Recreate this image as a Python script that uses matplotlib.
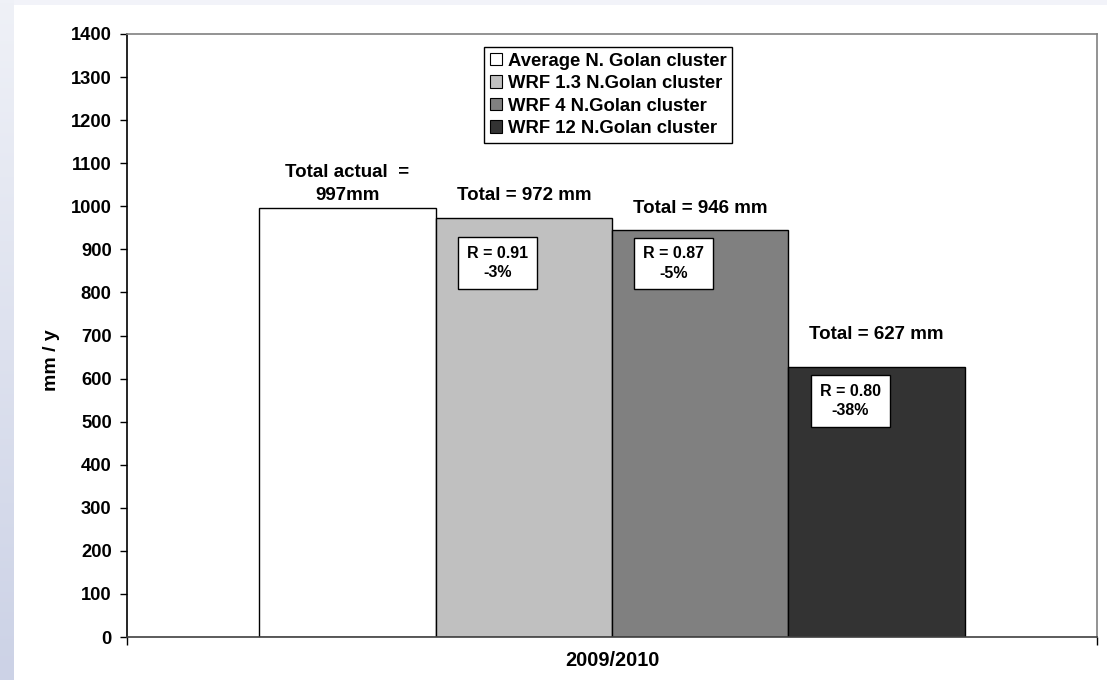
import matplotlib.pyplot as plt
import numpy as np
from matplotlib.patches import Rectangle

plt.rcParams['font.family'] = ['Liberation Sans', 'DejaVu Sans']
plt.rcParams['font.weight'] = 'bold'

# data
series = ['Average N. Golan cluster', 'WRF 1.3 N.Golan cluster',
          'WRF 4 N.Golan cluster', 'WRF 12 N.Golan cluster']
totals = [997, 972, 946, 627]
colors = ['#ffffff', '#c0c0c0', '#808080', '#333333']
total_labels = ['Total actual  =\n997mm', 'Total = 972 mm', 'Total = 946 mm', 'Total = 627 mm']
r_values = [None, 0.91, 0.87, 0.80]
pct_diff = [None, -3, -5, -38]
category = '2009/2010'

W, H = 1107, 680
fig = plt.figure(figsize=(W / 100, H / 100), dpi=100)
fig.patch.set_facecolor('white')

# slide-like background: bluish strip on the left, pale strip on top
bg = fig.add_axes([0, 0, 1, 1], zorder=-10)
bg.set_xlim(0, W)
bg.set_ylim(H, 0)
bg.axis('off')
grad = np.linspace(0, 1, 200).reshape(-1, 1)
top_c = np.array([0xef, 0xf1, 0xf7]) / 255
bot_c = np.array([0xcc, 0xd2, 0xe6]) / 255
img = top_c + (bot_c - top_c) * grad[:, :, None]
bg.imshow(img, extent=[0, 14, H, 0], aspect='auto')
bg.add_patch(Rectangle((14, 0), W - 14, 5, color='#f2f3f9', lw=0))

ax = fig.add_axes([127 / W, 43 / H, 970 / W, 603 / H])
ax.set_facecolor('white')

x = np.arange(len(totals))
ax.bar(x, totals, width=1.0, color=colors, edgecolor='black', linewidth=1,
       label=series, zorder=2)

xlo, xhi = -1.248, len(totals) - 1 + 1.248
ax.set_xlim(xlo, xhi)
ax.set_ylim(0, 1400)
ax.set_yticks(np.arange(0, 1401, 100))
ax.tick_params(axis='y', labelsize=13.2, length=5, width=1, pad=6)
ax.set_xticks([xlo, xhi])
ax.set_xticklabels(['', ''])
ax.tick_params(axis='x', which='major', length=6, width=1)
ax.set_xticks([(xlo + xhi) / 2], minor=True)
ax.set_xticklabels([category], minor=True, fontsize=14.3, fontweight='bold')
ax.tick_params(axis='x', which='minor', length=0, pad=10)
for lbl in ax.get_yticklabels():
    lbl.set_fontweight('bold')

ax.spines['left'].set_color('black')
ax.spines['bottom'].set_color('#404040')
ax.spines['top'].set_color('#808080')
ax.spines['right'].set_color('#808080')
for s in ax.spines.values():
    s.set_linewidth(1.2)

fig.text(52 / W, 1 - 360 / H, 'mm / y', rotation=90, ha='center', va='center',
         fontsize=14, fontweight='bold')

# total labels above the bars
total_off = [4, 14, 13, 24]
for xi, t, lab, off in zip(x, totals, total_labels, total_off):
    ax.annotate(lab, (xi, t), xytext=(0, off), textcoords='offset pixels',
                ha='center', va='bottom', fontsize=13.5, fontweight='bold',
                linespacing=1.4, zorder=5)

# correlation boxes inside the bars
box_off = [0, -45, -34, -34]
for xi, t, r, p, off in zip(x, totals, r_values, pct_diff, box_off):
    if r is None:
        continue
    ax.annotate(f'R = {r:.2f}\n{p}%', (xi - 0.15, t), xytext=(0, off),
                textcoords='offset pixels', ha='center', va='center',
                fontsize=11.5, fontweight='bold', linespacing=1.35, zorder=5,
                bbox=dict(boxstyle='square,pad=0.55', fc='white', ec='black', lw=1))

leg = ax.legend(loc='upper left', bbox_to_anchor=(484 / W, 1 - 47 / H),
                bbox_transform=fig.transFigure, fontsize=13.3, frameon=True,
                fancybox=False, edgecolor='black', framealpha=1,
                handlelength=0.68, handleheight=0.68, handletextpad=0.3,
                labelspacing=0.3, borderpad=0.3, borderaxespad=0)
leg.get_frame().set_linewidth(1)
for t in leg.get_texts():
    t.set_fontweight('bold')
for h in leg.legend_handles:
    h.set_linewidth(0.8)

fig.savefig('out.png', dpi=100)
